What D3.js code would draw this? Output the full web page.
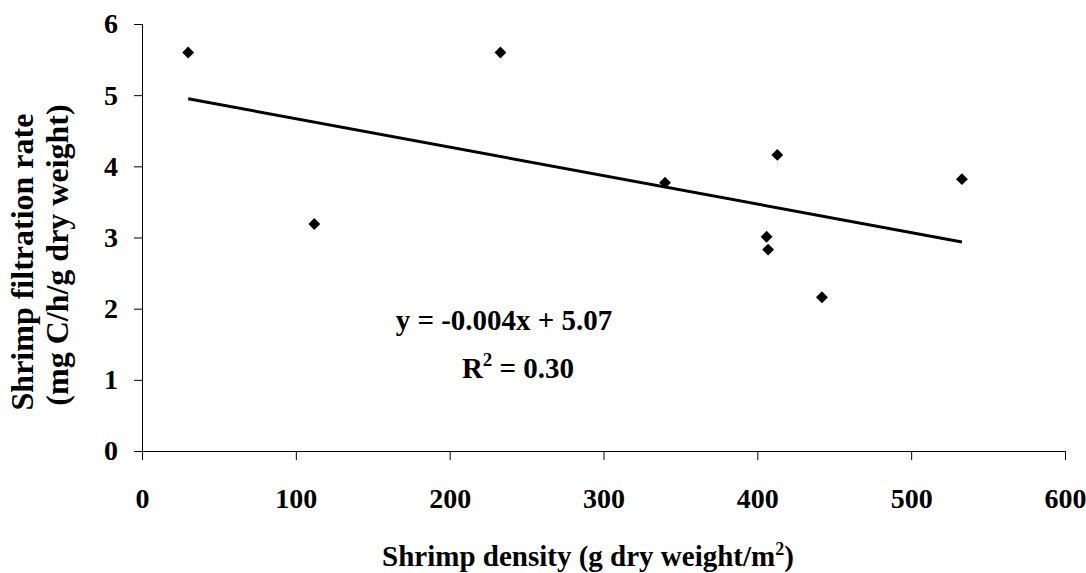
<!DOCTYPE html>
<html>
<head>
<meta charset="utf-8">
<script src="https://cdn.jsdelivr.net/npm/d3@7"></script>
<style>
  body { margin: 0; background: #fff; }
  svg text { font-family: "Liberation Serif", "Times New Roman", serif; font-weight: bold; fill: #000; }
  .axis path, .axis line { stroke: #000; stroke-width: 1; }
</style>
</head>
<body>
<div id="scatter"></div>
<script>
// Data
var density = [30, 112, 233, 340, 406, 407, 413, 442, 533];
var filtration = [5.60, 3.19, 5.60, 3.77, 3.01, 2.83, 4.16, 2.16, 3.82];
var xTicks = [0, 100, 200, 300, 400, 500, 600];
var yTicks = [0, 1, 2, 3, 4, 5, 6];
var slope = -0.004, intercept = 5.07;

var svgWidth = 1086, svgHeight = 573;
var margin = { top: 24, right: 21, bottom: 122, left: 142 };
var width = svgWidth - margin.left - margin.right;
var height = svgHeight - margin.top - margin.bottom;

var svg = d3.select("#scatter")
  .append("svg")
  .attr("width", svgWidth)
  .attr("height", svgHeight);

var chart = svg.append("g")
  .attr("transform", "translate(" + margin.left + "," + margin.top + ")");

var xScale = d3.scaleLinear().domain([0, 600]).range([0, width]);
var yScale = d3.scaleLinear().domain([0, 6]).range([height, 0]);

// axes
var bottomAxis = d3.axisBottom(xScale).tickValues(xTicks).tickFormat(d3.format("d"))
  .tickSize(9).tickPadding(28).tickSizeOuter(9);
var leftAxis = d3.axisLeft(yScale).tickValues(yTicks).tickFormat(d3.format("d"))
  .tickSize(8).tickPadding(16).tickSizeOuter(8);

chart.append("g")
  .attr("class", "axis")
  .attr("transform", "translate(0," + height + ")")
  .call(bottomAxis)
  .selectAll("text").style("font-size", "28px");

chart.append("g")
  .attr("class", "axis")
  .call(leftAxis)
  .selectAll("text").style("font-size", "28px");

// trend line
var xMin = d3.min(density), xMax = d3.max(density);
chart.append("line")
  .attr("x1", xScale(xMin))
  .attr("y1", yScale(intercept + slope * xMin))
  .attr("x2", xScale(xMax))
  .attr("y2", yScale(intercept + slope * xMax))
  .attr("stroke", "#000")
  .attr("stroke-width", 3);

// points
chart.selectAll(".pt")
  .data(density)
  .enter().append("path")
  .attr("class", "pt")
  .attr("d", d3.symbol().type(d3.symbolSquare).size(70))
  .attr("transform", function(d, i) {
    return "translate(" + xScale(d) + "," + yScale(filtration[i]) + ") rotate(45)";
  })
  .attr("fill", "#000");

// equation
chart.append("text")
  .attr("x", 362)
  .attr("y", 306)
  .attr("text-anchor", "middle")
  .style("font-size", "29px")
  .text("y = -0.004x + 5.07");

var r2 = chart.append("text")
  .attr("x", 376)
  .attr("y", 354)
  .attr("text-anchor", "middle")
  .style("font-size", "29px");
r2.append("tspan").text("R");
r2.append("tspan").attr("dy", -12).style("font-size", "19px").text("2");
r2.append("tspan").attr("dy", 12).text(" = 0.30");

// x axis title
var xt = svg.append("text")
  .attr("x", 588)
  .attr("y", 566)
  .attr("text-anchor", "middle")
  .style("font-size", "29px");
xt.append("tspan").text("Shrimp density (g dry weight/m");
xt.append("tspan").attr("dy", -11).style("font-size", "18px").text("2");
xt.append("tspan").attr("dy", 11).text(")");

// y axis title
var yt = svg.append("text")
  .attr("transform", "translate(0,262) rotate(-90)")
  .attr("text-anchor", "middle")
  .style("font-size", "32px");
yt.append("tspan").attr("x", 0).attr("y", 33).text("Shrimp filtration rate");
yt.append("tspan").attr("x", 7).attr("y", 68).text("(mg C/h/g dry weight)");
</script>
</body>
</html>
